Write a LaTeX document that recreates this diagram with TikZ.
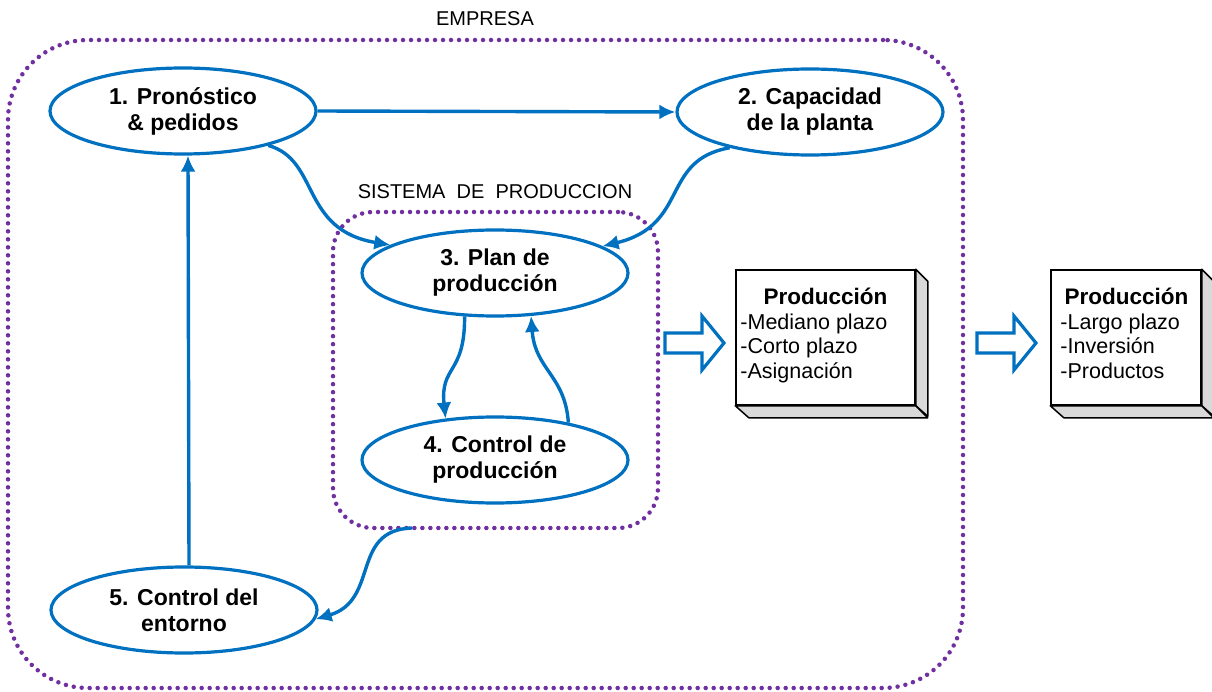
\documentclass[tikz,border=0pt]{standalone}
\usepackage{fontspec}
\setmainfont{Liberation Sans}
\usetikzlibrary{arrows.meta,shapes.geometric}
\definecolor{cblue}{HTML}{0070C0}
\definecolor{cpurple}{HTML}{7030A0}
\begin{document}
\begin{tikzpicture}[x=1pt,y=-1pt,
  proc/.style={ellipse, draw=cblue, line width=3.2pt, fill=white, minimum width=266pt, minimum height=86pt, inner sep=0pt, align=center, font=\fontsize{23}{26}\selectfont\bfseries},
  conn/.style={draw=cblue, line width=3.4pt, -{Latex[length=16pt,width=15pt]}},
  frame/.style={draw=cpurple, line width=4.5pt, dash pattern=on 0pt off 8pt, line cap=round, inner sep=0pt},
  box/.style={draw=black, line width=1.5pt, fill=white, minimum height=135pt, inner sep=0pt},
  face/.style={draw=black, line width=1.5pt, fill=gray!30, line join=round},
  boxtext/.style={align=left, inner sep=0pt, font=\fontsize{21.5}{24.5}\selectfont},
  lbl/.style={font=\fontsize{20}{22}\selectfont, inner sep=0pt},
  hollow/.style={draw=cblue, line width=3.2pt, fill=white, line join=miter}
]
\useasboundingbox (0,0) rectangle (1212,692);
% frames
\node[frame, rounded corners=80pt, minimum width=955pt, minimum height=648pt] (emp) at (485.5,364) {};
\node[frame, rounded corners=40pt, minimum width=325pt, minimum height=316pt] (sys) at (495.5,370) {};
\node[lbl] (lemp) at (485,19) {EMPRESA};
\node[lbl] (lsys) at (495,192) {SISTEMA\ \ DE\ \ PRODUCCION};
% processes
\node[proc] (e1) at (183,111) {1. Pronóstico\\\& pedidos};
\node[proc] (e2) at (810,112) {2. Capacidad\\de la planta};
\node[proc] (e3) at (495,273) {3. Plan de\\producción};
\node[proc] (e4) at (495,460) {4. Control de\\producción};
\node[proc] (e5) at (184,610) {5. Control del\\entorno};
% connectors
\draw[conn] (e1.east) -- (e2.west);
\draw[conn] (e1.-22) .. controls (320,160) and (300,230) .. (e3.165);
\draw[conn] (e2.-156) .. controls (660,160) and (690,225) .. (e3.14);
\draw[conn] (e3.-125) .. controls (465,375) and (440,365) .. (e4.140);
\draw[conn] (e4.27) .. controls (565,375) and (535,370) .. (e3.-50);
\coordinate (sysout) at (412,528);
\draw[conn] (sysout) .. controls (350,530) and (380,600) .. (e5.-4);
\draw[conn] ([xshift=5pt]e5.north) -- ([xshift=5pt]e1.south);
% hollow arrows
\draw[hollow] (665,333) -- (702,333) -- (702,316) -- (724,343) -- (702,370) -- (702,353) -- (665,353) -- cycle;
\draw[hollow] (977,333) -- (1014,333) -- (1014,316) -- (1036,343) -- (1014,370) -- (1014,353) -- (977,353) -- cycle;
% boxes
\node[box, minimum width=179pt] (b1) at (825.5,337.5) {};
\draw[face] (b1.north east) -- ++(12,12) -- ++(0,135) -- (b1.south east) -- cycle;
\draw[face] (b1.south west) -- (b1.south east) -- ++(12,12) -- ++(-179,0) -- cycle;
\node[boxtext, anchor=north west] (t1) at ([shift={(5,19)}]b1.north west)
  {\makebox[170pt]{\fontsize{22.5}{24.5}\selectfont\bfseries Producción}\\-Mediano plazo\\-Corto plazo\\-Asignación};
\node[box, minimum width=150pt] (b2) at (1126,337.5) {};
\draw[face] (b2.north east) -- ++(12,12) -- ++(0,135) -- (b2.south east) -- cycle;
\draw[face] (b2.south west) -- (b2.south east) -- ++(12,12) -- ++(-150,0) -- cycle;
\node[boxtext, anchor=north west] (t2) at ([shift={(10,19)}]b2.north west)
  {\makebox[132pt]{\fontsize{22.5}{24.5}\selectfont\bfseries Producción}\\-Largo plazo\\-Inversión\\-Productos};
\end{tikzpicture}
\end{document}
